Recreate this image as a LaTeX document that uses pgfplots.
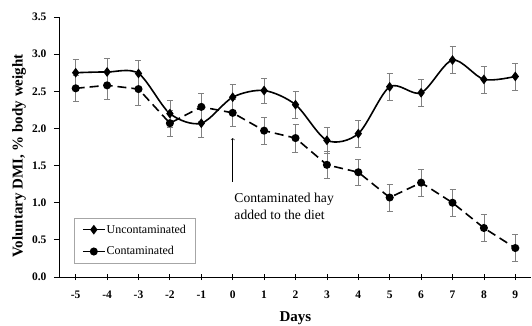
\documentclass[border=0pt]{standalone}
\usepackage{pgfplots}
\pgfplotsset{compat=1.18}
\usepackage{pgfplotstable}
\usepackage{fontspec}
\setmainfont{Liberation Serif}
\pgfplotstableread{
x u ue c ce
-5 2.75 0.18 2.54 0.17
-4 2.76 0.18 2.58 0.19
-3 2.74 0.18 2.53 0.22
-2 2.20 0.18 2.07 0.18
-1 2.07 0.19 2.29 0.19
0 2.42 0.18 2.21 0.18
1 2.51 0.17 1.97 0.18
2 2.32 0.18 1.87 0.19
3 1.84 0.18 1.51 0.18
4 1.93 0.18 1.41 0.18
5 2.56 0.18 1.07 0.18
6 2.48 0.18 1.27 0.18
7 2.92 0.18 1.00 0.18
8 2.66 0.18 0.66 0.18
9 2.70 0.18 0.39 0.18
}\datatable
\begin{document}
\begin{tikzpicture}
\begin{axis}[
  scale only axis, width=471pt, height=260pt,
  xmin=-5.5, xmax=9.5, ymin=0, ymax=3.5,
  axis x line*=bottom, axis y line*=left,
  axis line style={black, line width=1pt},
  xtick={-5,...,9},
  xticklabels={-5,-4,-3,-2,-1,0,1,2,3,4,5,6,7,8,9},
  ytick={0,0.5,1,1.5,2,2.5,3,3.5},
  yticklabel={\pgfmathprintnumber[fixed,fixed zerofill,precision=1,assume math mode=true]{\tick}},
  tick label style={font=\fontsize{11.5}{13}\selectfont\bfseries},
  yticklabel style={xshift=-4pt},
  xticklabel style={yshift=-7pt},
  xtick align=center, ytick align=outside,
  major tick length=6pt,
  tick style={black, line width=0.8pt},
  xlabel={Days},
  ylabel={Voluntary DMI, \% body weight},
  xlabel style={at={(axis description cs:0.5,-0.158)}, anchor=center, font=\fontsize{15}{18}\selectfont\bfseries},
  ylabel style={at={(axis description cs:-0.087,0.465)}, anchor=center, rotate=0, font=\fontsize{15}{18}\selectfont\bfseries},
  clip=false,
  legend style={at={(axis cs:-5.06,0.8)}, anchor=north west, draw=gray!70,
    font=\fontsize{12}{14}\selectfont, row sep=8pt, inner xsep=8pt, inner ysep=5pt,
    nodes={inner xsep=1pt}},
  legend cell align=left,
  legend image code/.code={\draw[mark repeat=2,mark phase=2,#1] plot coordinates {(0pt,0pt) (11pt,0pt) (22pt,0pt)};},
]
\addplot[black, line width=1.6pt, smooth, mark=diamond*, mark size=3.6pt, mark options={solid},
  error bars/.cd, y dir=both, y explicit,
  error bar style={gray, line width=0.5pt, solid},
  error mark options={rotate=90, gray, mark size=3pt, line width=0.5pt}]
  table[x=x, y=u, y error=ue] {\datatable};
\addlegendentry{Uncontaminated}
\addplot[black, line width=1.6pt, dash pattern=on 9pt off 5pt, mark=*, mark size=3.2pt, mark options={solid},
  error bars/.cd, y dir=both, y explicit,
  error bar style={gray, line width=0.5pt, solid},
  error mark options={rotate=90, gray, mark size=3pt, line width=0.5pt}]
  table[x=x, y=c, y error=ce] {\datatable};
\addlegendentry{Contaminated}
\draw[->, line width=0.5pt] (axis cs:0,1.28) -- (axis cs:0,1.87);
\node[anchor=north west, align=left, inner sep=0pt, font=\fontsize{13.6}{16.7}\selectfont] at (axis cs:0.05,1.13) {Contaminated hay\\added to the diet};
\end{axis}
\pgfresetboundingbox
\path ([shift={(-60pt,-49pt)}]current axis.south west) rectangle ([shift={(1pt,17pt)}]current axis.north east);
\end{tikzpicture}
\end{document}
